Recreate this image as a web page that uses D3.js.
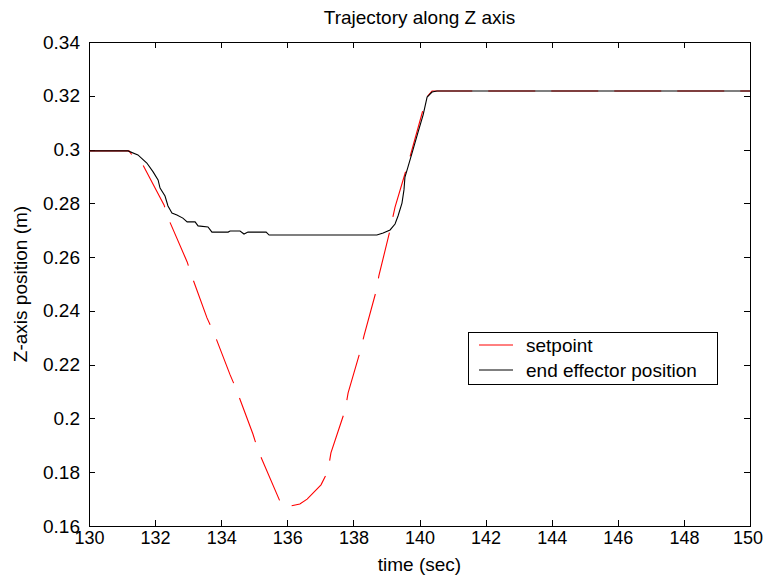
<!DOCTYPE html>
<html>
<head>
<meta charset="utf-8">
<script src="https://cdn.jsdelivr.net/npm/d3@7"></script>
<style>
  html, body { margin: 0; padding: 0; background: #fff; }
  svg { display: block; }
  text { font-family: "Liberation Sans", Arial, Helvetica, sans-serif; fill: #000; }
</style>
</head>
<body>
<svg id="chart" width="764" height="577"></svg>
<script>
// ---- data ----
const setpointT = [130, 131.21, 131.30, 131.63, 132.27, 132.42, 132.97, 133.12, 133.57, 133.78, 134.27, 134.45, 134.96, 135.11, 135.84, 136.0, 136.38, 136.60, 137.02, 137.23, 137.32, 137.75, 137.84, 138.20, 138.32, 138.68, 138.77, 139.11, 139.26, 139.71, 140.08, 140.20, 140.38, 150];
const setpointZ = [0.2995, 0.2995, 0.2980, 0.2943, 0.2794, 0.2738, 0.2582, 0.2526, 0.2374, 0.2318, 0.2162, 0.2110, 0.1942, 0.1883, 0.1674, 0.1672, 0.1682, 0.1700, 0.1753, 0.1805, 0.1872, 0.2031, 0.2095, 0.2247, 0.2307, 0.2470, 0.2530, 0.2701, 0.2786, 0.2972, 0.3136, 0.3192, 0.3218, 0.3218];

const effectorT = [130, 131.18, 131.48, 131.75, 131.94, 132.09, 132.15, 132.30, 132.39, 132.51, 132.66, 132.84, 132.97, 133.21, 133.30, 133.60, 133.72, 134.21, 134.27, 134.57, 134.69, 134.81, 135.36, 135.45, 138.71, 138.90, 139.11, 139.26, 139.35, 139.47, 139.53, 139.56, 139.65, 139.80, 139.95, 140.11, 140.23, 140.38, 140.53, 150];
const effectorZ = [0.2995, 0.2995, 0.2980, 0.2950, 0.2917, 0.2887, 0.2857, 0.2827, 0.2790, 0.2764, 0.2757, 0.2745, 0.2731, 0.2731, 0.2716, 0.2712, 0.2693, 0.2693, 0.2697, 0.2697, 0.2686, 0.2693, 0.2693, 0.2682, 0.2682, 0.2690, 0.2701, 0.2723, 0.2753, 0.2801, 0.2850, 0.2898, 0.2935, 0.2998, 0.3062, 0.3129, 0.3195, 0.3214, 0.3218, 0.3218];

const xTickValues = [130, 132, 134, 136, 138, 140, 142, 144, 146, 148, 150];
const yTickValues = [0.16, 0.18, 0.2, 0.22, 0.24, 0.26, 0.28, 0.3, 0.32, 0.34];
const seriesNames = ["setpoint", "end effector position"];
const seriesColors = ["#ff0000", "#000000"];
const titleText = "Trajectory along Z axis";
const xLabelText = "time (sec)";
const yLabelText = "Z-axis position (m)";

// ---- layout ----
const W = 764, H = 577;
const svg = d3.select("#chart");
const L = 89, R = 750, T = 42, B = 526;
const x = d3.scaleLinear().domain([130, 150]).range([L, R]);
const y = d3.scaleLinear().domain([0.16, 0.34]).range([B, T]);
const tickLen = 6;
const fs = 19;

svg.append("rect").attr("width", W).attr("height", H).attr("fill", "#fff");

svg.append("defs").append("clipPath").attr("id", "clip")
  .append("rect").attr("x", L).attr("y", T).attr("width", R - L).attr("height", B - T);

// axes (inward ticks, mirrored)
const fmtY = d => String(+d.toFixed(2));
const bottomAx = svg.append("g").attr("transform", `translate(0,${B})`)
  .call(d3.axisBottom(x).tickValues(xTickValues).tickSizeInner(-tickLen).tickSizeOuter(0).tickPadding(5).tickFormat(d3.format("d")));
const topAx = svg.append("g").attr("transform", `translate(0,${T})`)
  .call(d3.axisTop(x).tickValues(xTickValues).tickSizeInner(-tickLen).tickSizeOuter(0).tickFormat(""));
const leftAx = svg.append("g").attr("transform", `translate(${L},0)`)
  .call(d3.axisLeft(y).tickValues(yTickValues).tickSizeInner(-tickLen).tickSizeOuter(0).tickPadding(9).tickFormat(fmtY));
const rightAx = svg.append("g").attr("transform", `translate(${R},0)`)
  .call(d3.axisRight(y).tickValues(yTickValues).tickSizeInner(-tickLen).tickSizeOuter(0).tickFormat(""));

[bottomAx, topAx, leftAx, rightAx].forEach(g => {
  g.select(".domain").remove();
  g.selectAll("line").attr("stroke", "#000").attr("stroke-width", 1).attr("shape-rendering", "crispEdges");
  g.selectAll("text").attr("font-size", fs).attr("font-family", null);
});
bottomAx.selectAll("text").attr("dy", "0.71em").attr("font-size", 18);
// keep the rightmost tick label inside the window
bottomAx.selectAll("text").each(function() {
  const bb = this.getBBox();
  const g = this.parentNode;
  const tx = +g.getAttribute("transform").match(/translate\(([-\d.]+)/)[1];
  const overflow = tx + bb.x + bb.width - (W - 1);
  if (overflow > 0) d3.select(this).attr("x", -overflow);
});

svg.append("rect").attr("x", L).attr("y", T).attr("width", R - L).attr("height", B - T)
  .attr("fill", "none").attr("stroke", "#000").attr("stroke-width", 1).attr("shape-rendering", "crispEdges");

// lines
const line = d3.line().x(d => x(d[0])).y(d => y(d[1]));
const spData = setpointT.map((t, i) => [t, setpointZ[i]]);
const eeData = effectorT.map((t, i) => [t, effectorZ[i]]);
const plot = svg.append("g").attr("clip-path", "url(#clip)");
plot.append("path").datum(spData).attr("d", line)
  .attr("fill", "none").attr("stroke", seriesColors[0]).attr("stroke-width", 1.1)
  .attr("stroke-dasharray", "47,16").attr("stroke-dashoffset", 2.5);
plot.append("path").datum(eeData).attr("d", line)
  .attr("fill", "none").attr("stroke", seriesColors[1]).attr("stroke-width", 1.1);

// labels
svg.append("text").attr("x", (L + R) / 2).attr("y", 24).attr("text-anchor", "middle")
  .attr("font-size", fs).text(titleText);
svg.append("text").attr("x", (L + R) / 2).attr("y", 571).attr("text-anchor", "middle")
  .attr("font-size", fs).text(xLabelText);
svg.append("text").attr("transform", `translate(27,${(T + B) / 2}) rotate(-90)`)
  .attr("text-anchor", "middle").attr("font-size", fs).text(yLabelText);

// legend
const lg = svg.append("g");
lg.append("rect").attr("x", 468.5).attr("y", 332.5).attr("width", 249).attr("height", 52)
  .attr("fill", "#fff").attr("stroke", "#000").attr("stroke-width", 1);
seriesNames.forEach((name, i) => {
  const yy = 345 + i * 25;
  lg.append("line").attr("x1", 479).attr("x2", 513).attr("y1", yy).attr("y2", yy)
    .attr("stroke", seriesColors[i]).attr("stroke-width", 1);
  lg.append("text").attr("x", 526).attr("y", yy).attr("dy", "0.35em")
    .attr("font-size", fs).text(name);
});
</script>
</body>
</html>
